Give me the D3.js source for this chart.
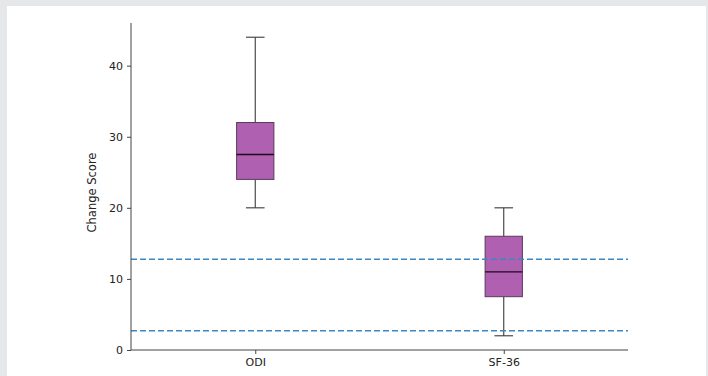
<!DOCTYPE html>
<html>
<head>
<meta charset="utf-8">
<script src="https://cdn.jsdelivr.net/npm/d3@7"></script>
<style>
  body { margin: 0; background: #e6e7e9; }
  #panel { position: absolute; left: 7px; top: 6px; width: 699px; height: 370px; background: #fff; }
  svg { position: absolute; left: 0; top: 0; }
  text { font-family: "DejaVu Sans", sans-serif; fill: #222; }
</style>
</head>
<body>
<div id="panel"></div>
<script>
// box plot stats
var groups = ["ODI", "SF-36"];
var whiskLow = [20, 2];
var q1 = [24, 7.5];
var median = [27.5, 11];
var q3 = [32, 16];
var whiskHigh = [44, 20];
var refLines = [12.75, 2.7];
var yTicks = [0, 10, 20, 30, 40];

var margin = {top: 23, right: 80, bottom: 26, left: 131},
    width = 708 - margin.left - margin.right,
    height = 376 - margin.top - margin.bottom;

var svg = d3.select("body").append("svg")
    .attr("width", 708)
    .attr("height", 376)
  .append("g")
    .attr("transform", "translate(" + margin.left + "," + margin.top + ")");

var x = d3.scaleLinear().domain([0.5, 2.5]).range([0, width]);
var y = d3.scaleLinear().domain([0, 46]).range([height, 0]);

var boxW = x(1.075) - x(0.925);
var capW = boxW / 2;

var data = groups.map(function(g, i) {
  return {name: g, pos: i + 1, lo: whiskLow[i], q1: q1[i], med: median[i], q3: q3[i], hi: whiskHigh[i]};
});

var box = svg.selectAll("g.box")
    .data(data)
  .enter().append("g")
    .attr("class", "box");

// whiskers
box.append("line")
    .attr("x1", function(d) { return x(d.pos); })
    .attr("x2", function(d) { return x(d.pos); })
    .attr("y1", function(d) { return y(d.hi); })
    .attr("y2", function(d) { return y(d.q3); })
    .attr("stroke", "#3a3a3a").attr("stroke-width", 1.1);
box.append("line")
    .attr("x1", function(d) { return x(d.pos); })
    .attr("x2", function(d) { return x(d.pos); })
    .attr("y1", function(d) { return y(d.q1); })
    .attr("y2", function(d) { return y(d.lo); })
    .attr("stroke", "#3a3a3a").attr("stroke-width", 1.1);
box.selectAll("line.cap")
    .data(function(d) { return [{pos: d.pos, v: d.hi}, {pos: d.pos, v: d.lo}]; })
  .enter().append("line")
    .attr("class", "cap")
    .attr("x1", function(d) { return x(d.pos) - capW / 2; })
    .attr("x2", function(d) { return x(d.pos) + capW / 2; })
    .attr("y1", function(d) { return y(d.v); })
    .attr("y2", function(d) { return y(d.v); })
    .attr("stroke", "#3a3a3a").attr("stroke-width", 1.1);

box.append("rect")
    .attr("x", function(d) { return x(d.pos) - boxW / 2; })
    .attr("width", boxW)
    .attr("y", function(d) { return y(d.q3); })
    .attr("height", function(d) { return y(d.q1) - y(d.q3); })
    .attr("fill", "#b060b0")
    .attr("stroke", "#5a3a5a").attr("stroke-width", 1);

box.append("line")
    .attr("x1", function(d) { return x(d.pos) - boxW / 2; })
    .attr("x2", function(d) { return x(d.pos) + boxW / 2; })
    .attr("y1", function(d) { return y(d.med); })
    .attr("y2", function(d) { return y(d.med); })
    .attr("stroke", "#1a0a1a").attr("stroke-width", 1.3);

// reference lines
svg.selectAll("line.ref")
    .data(refLines)
  .enter().append("line")
    .attr("class", "ref")
    .attr("x1", 0).attr("x2", width)
    .attr("y1", function(d) { return y(d); })
    .attr("y2", function(d) { return y(d); })
    .attr("stroke", "#3a87c4").attr("stroke-width", 1.5)
    .attr("stroke-dasharray", "6,3");

var yAxis = svg.append("g")
    .call(d3.axisLeft(y).tickValues(yTicks).tickSize(4).tickPadding(4));
var xAxis = svg.append("g")
    .attr("transform", "translate(0," + height + ")")
    .call(d3.axisBottom(x).tickValues([1, 2]).tickFormat(function(d) { return groups[d - 1]; }).tickSize(4).tickPadding(4));

[yAxis, xAxis].forEach(function(a) {
  a.select(".domain").attr("stroke", "#444");
  a.selectAll(".tick line").attr("stroke", "#444");
  a.selectAll("text").attr("font-size", 11).attr("font-family", "DejaVu Sans, sans-serif").attr("fill", "#222");
});
yAxis.select(".domain").attr("d", "M0," + height + "V0");
xAxis.select(".domain").attr("d", "M0,0H" + width);

svg.append("text")
    .attr("transform", "translate(-35," + (height / 2 + 6) + ") rotate(-90)")
    .attr("text-anchor", "middle")
    .attr("font-size", 11.5)
    .text("Change Score");
</script>
</body>
</html>
